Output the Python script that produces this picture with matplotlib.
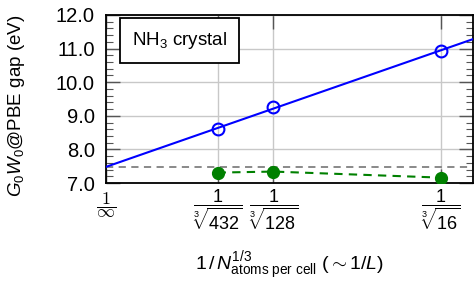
import numpy as np
import matplotlib
matplotlib.use("Agg")
import matplotlib.pyplot as plt
from matplotlib.ticker import MultipleLocator
from matplotlib.transforms import blended_transform_factory

plt.rcParams['font.family'] = ['Liberation Sans', 'DejaVu Sans']
plt.rcParams['mathtext.fontset'] = 'custom'
plt.rcParams['mathtext.rm'] = 'Liberation Sans'
plt.rcParams['mathtext.it'] = 'Liberation Sans:italic'
plt.rcParams['mathtext.bf'] = 'Liberation Sans:bold'

# data
n_atoms = [432, 128, 16]
gw_gap = [8.61, 9.25, 10.94]
other_gap = [7.31, 7.34, 7.16]
ref_gap = 7.49
inf_label = r'$\dfrac{1}{\infty}$'
tick_labels = ['', r'$\dfrac{1}{\sqrt[3]{432}}$',
               r'$\dfrac{1}{\sqrt[3]{128}}$', r'$\dfrac{1}{\sqrt[3]{16}}$']

x = 1.0 / np.cbrt(np.array(n_atoms, dtype=float))
coef = np.polyfit(x, gw_gap, 1)

fig = plt.figure(figsize=(4.74, 2.83), dpi=100)
ax = fig.add_axes([106/474, 1-183/283, 367/474, 168/283])

xlim = (0, 0.435)
xf = np.linspace(xlim[0], xlim[1], 10)
ax.plot(xf, np.polyval(coef, xf), color='blue', lw=1.5, zorder=3)
ax.plot(x, gw_gap, 'o', mfc='none', mec='blue', mew=1.5, ms=8.5, zorder=4)
ax.axhline(ref_gap, color='gray', ls=(0, (4, 3)), lw=1.3, zorder=2)
ax.plot(x, other_gap, 'o--', color='green', ms=8.5, lw=1.5, dashes=(4, 3), zorder=4)

ax.set_xlim(*xlim)
ax.set_ylim(7.0, 12.0)
ax.set_xticks([0] + list(x))
ax.set_xticklabels(tick_labels, fontsize=13)
# first tick label (1/infinity), drawn with a font whose infinity sign is wide
trans = blended_transform_factory(ax.transData, ax.transAxes)
ax.text(0, -0.045, inf_label, transform=trans, fontsize=13, ha='center',
        va='top', math_fontfamily='cm', clip_on=False)
ax.set_yticks([7, 8, 9, 10, 11, 12])
ax.set_yticklabels(['7.0', '8.0', '9.0', '10.0', '11.0', '12.0'], fontsize=14.5)
ax.yaxis.set_minor_locator(MultipleLocator(0.2))
ax.tick_params(axis='both', which='major', direction='in', length=10, width=1,
               color='#555555', top=True, right=True)
ax.tick_params(axis='y', which='minor', direction='in', length=5, width=0.8,
               color='#555555', left=True, right=True)
ax.tick_params(axis='y', which='major', pad=8)
ax.tick_params(axis='x', which='major', pad=3)
ax.grid(True, which='major', color='#c8c8c8', lw=1.0, zorder=0)
ax.set_axisbelow(True)
for s in ax.spines.values():
    s.set_linewidth(1.3)

ax.text(0.20, 0.848, r'NH$_3$ crystal', transform=ax.transAxes, fontsize=13.5,
        va='center', ha='center',
        bbox=dict(boxstyle='square,pad=0.62', fc='white', ec='black', lw=1.3))

ax.set_ylabel(r'$G_0W_0$@PBE gap (eV)', fontsize=13.5)
ax.yaxis.set_label_coords(-0.215, 0.46)
ax.set_xlabel(r'$1\,/\,N_{\mathrm{atoms\ per\ cell}}^{1/3}$ $(\sim 1/L)$', fontsize=14)
ax.xaxis.set_label_coords(0.5, -0.40)

fig.savefig('out.png', dpi=100)
